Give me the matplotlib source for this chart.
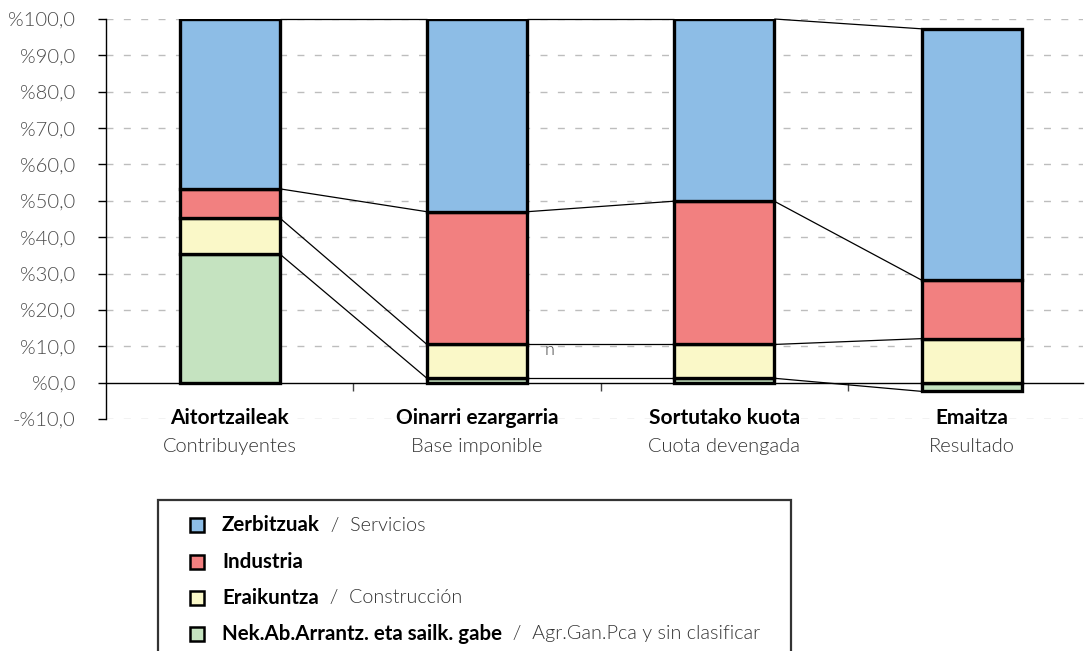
import numpy as np
import matplotlib
matplotlib.use("Agg")
import matplotlib.pyplot as plt
from matplotlib.patches import Rectangle

# ---- data ----
cat_eu = ["Aitortzaileak", "Oinarri ezargarria", "Sortutako kuota", "Emaitza"]
cat_es = ["Contribuyentes", "Base imponible", "Cuota devengada", "Resultado"]

# series in stacking order (bottom -> top)
green = [35.4, 1.2, 1.2, -2.4]     # Nek.Ab.Arrantz. eta sailk. gabe
yellow = [9.9, 9.3, 9.3, 12.1]     # Eraikuntza
red = [8.0, 36.5, 39.4, 16.1]      # Industria
blue = [46.7, 53.0, 50.1, 69.1]    # Zerbitzuak

series = [green, yellow, red, blue]
colors = ["#C5E3C0", "#FAF8C8", "#F28080", "#8DBDE6"]

leg_bold = ["Zerbitzuak", "Industria", "Eraikuntza", "Nek.Ab.Arrantz. eta sailk. gabe"]
leg_light = ["Servicios", "", "Construcción", "Agr.Gan.Pca y sin clasificar"]
leg_colors = ["#8DBDE6", "#F28080", "#FAF8C8", "#C5E3C0"]

yticks = list(range(-10, 101, 10))
ytick_labels = [("-%" if v < 0 else "%") + f"{abs(v)},0" for v in yticks]

FONT = "Lato"
LIGHT = 300

W, H = 1086, 651
fig = plt.figure(figsize=(W / 100, H / 100), dpi=100)
ax_left, ax_right = 106, 1083
ax_top, ax_bot = 19, 419
ax = fig.add_axes([ax_left / W, 1 - ax_bot / H, (ax_right - ax_left) / W, (ax_bot - ax_top) / H])

spacing = 247.3
x = np.arange(len(cat_eu))
xmax = -0.5 + (ax_right - ax_left) / spacing
ax.set_xlim(-0.5, xmax)
ax.set_ylim(-10, 100)
bw = 100 / spacing

# stacking
pos_base = np.zeros(len(x))
neg_base = np.zeros(len(x))
ends = []
for vals, col in zip(series, colors):
    vals = np.array(vals, dtype=float)
    bottoms = np.where(vals >= 0, pos_base, neg_base)
    ax.bar(x, vals, bw, bottom=bottoms, color=col, edgecolor="black", linewidth=2.4, zorder=3)
    end = bottoms + vals
    ends.append(end)
    pos_base = np.where(vals >= 0, end, pos_base)
    neg_base = np.where(vals < 0, end, neg_base)

# connector lines
for end in ends:
    for i in range(len(x) - 1):
        ax.plot([x[i] + bw / 2, x[i + 1] - bw / 2], [end[i], end[i + 1]],
                color="black", lw=0.9, zorder=2, clip_on=False, solid_capstyle="butt")

# grid
for v in yticks:
    if v == 0:
        continue
    ax.axhline(v, color="#BDBDBD", lw=1.0, dashes=(5, 7.5), zorder=1)

# spines
for s in ["top", "right"]:
    ax.spines[s].set_visible(False)
ax.spines["bottom"].set_position(("data", 0))
ax.spines["bottom"].set_linewidth(1.0)
ax.spines["left"].set_linewidth(1.0)
ax.set_xticks(x[:-1] + 0.5)
ax.set_xticklabels([])
ax.tick_params(axis="x", direction="out", length=6, width=1.0, color="#444444")
ax.set_yticks(yticks)
ax.set_yticklabels(ytick_labels, fontsize=14.5, family=FONT, fontweight=LIGHT, color="#4a4a4a")
ax.tick_params(axis="y", direction="out", length=6, width=1.0, pad=16)

# category labels
for i in range(len(x)):
    ax.text(x[i], -9.6, cat_eu[i], ha="center", va="center", fontsize=15,
            family=FONT, fontweight="bold", color="black", clip_on=False)
    ax.text(x[i], -17.6, cat_es[i], ha="center", va="center", fontsize=14.5,
            family=FONT, fontweight=LIGHT, color="#333333", clip_on=False)

# stray label
ax.text(1.295, 9.0, "n", ha="center", va="center", fontsize=13, family=FONT,
        fontweight=LIGHT, color="#444444", clip_on=False)

# legend box
fig.add_artist(Rectangle((158 / W, -20 / H), (791 - 158) / W, (H - 500 + 20) / H,
                         transform=fig.transFigure, facecolor="white", edgecolor="#333333",
                         linewidth=1.6))
renderer = fig.canvas.get_renderer()
ys = [525, 562, 598, 634]
for yy, b, l, c in zip(ys, leg_bold, leg_light, leg_colors):
    fig.add_artist(Rectangle((190 / W, 1 - (yy + 7) / H), 14 / W, 14 / H,
                             transform=fig.transFigure, facecolor=c, edgecolor="black",
                             linewidth=1.8))
    t = fig.text(222 / W, 1 - yy / H, b, ha="left", va="center", fontsize=14.8,
                 family=FONT, fontweight="bold", color="black")
    if l:
        bb = t.get_window_extent(renderer)
        fig.text(bb.x1 / W, 1 - yy / H, "  /  " + l, ha="left", va="center", fontsize=14.2,
                 family=FONT, fontweight=LIGHT, color="#333333")

fig.savefig("out.png", dpi=100)
